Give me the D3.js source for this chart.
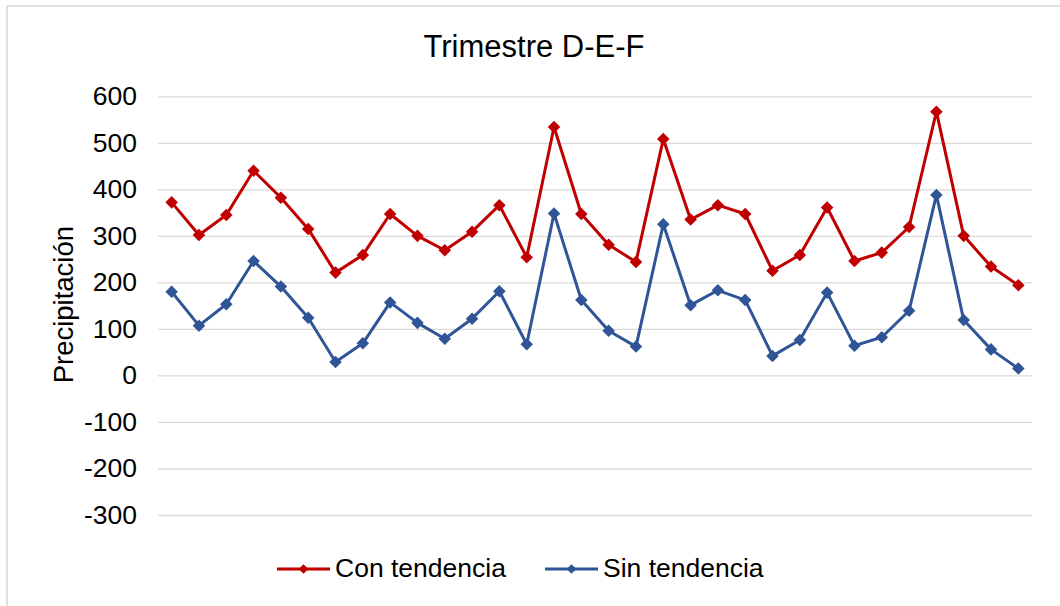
<!DOCTYPE html>
<html>
  <head>
    <meta charset="utf-8">
    <title>Trimestre D-E-F</title>
    <script src="https://d3js.org/d3.v7.min.js"></script>
    <style>
      body { margin: 0; background: #fff; }
      svg { display: block; font-family: "Liberation Sans", Arial, sans-serif; }
      .gridlines line { stroke: #d9d9d9; stroke-width: 1.3; }
      .gridlines path { display: none; }
      .axis path, .axis line { display: none; }
      .axis text { font-size: 26.5px; fill: #000; }
    </style>
  </head>
  <body>
    <script type="text/javascript">
    // data
    var periods = d3.range(1, 33);
    var conTendencia = [372, 302, 345, 440, 382, 315, 221, 259, 347, 300, 269,
                        309, 366, 254, 534, 347, 281, 244, 508, 335, 366, 347,
                        225, 259, 361, 246, 264, 319, 567, 300, 234, 194];
    var sinTendencia = [180, 107, 153, 246, 191, 124, 29, 69, 157, 113, 79,
                        122, 181, 67, 348, 162, 96, 62, 325, 151, 183, 162,
                        42, 76, 178, 64, 82, 139, 388, 119, 56, 15];
    var yTicks = [-300, -200, -100, 0, 100, 200, 300, 400, 500, 600];
    var seriesNames = ['Con tendencia', 'Sin tendencia'];
    var seriesColors = ['#c00000', '#2f5597'];

    var W = 1060, H = 606;
    var plot = {left: 158, right: 1032, top: 96.3, bottom: 515};

    var svg = d3.select('body').append('svg')
        .attr('width', W)
        .attr('height', H);

    // chart border (right and bottom edges fall outside the picture)
    svg.append('rect')
        .attr('x', 7)
        .attr('y', 6)
        .attr('width', W + 20)
        .attr('height', H + 20)
        .attr('fill', '#fff')
        .attr('stroke', '#d9d9d9')
        .attr('stroke-width', 1.6)

    var xScale = d3.scalePoint().domain(periods)
        .range([plot.left, plot.right]).padding(0.5);
    var yScale = d3.scaleLinear().domain([-300, 600])
        .range([plot.bottom, plot.top]);

    // y gridlines
    svg.append('g')
        .attr('class', 'gridlines')
        .attr('transform', 'translate(' + plot.left + ',0)')
        .call(d3.axisLeft(yScale)
            .tickValues(yTicks)
            .tickSize(-(plot.right - plot.left))
            .tickFormat('')
          )

    // y-axis (plain hyphen for negatives, like the original)
    svg.append('g')
        .attr('class', 'axis')
        .attr('transform', 'translate(' + plot.left + ',0)')
        .call(d3.axisLeft(yScale)
            .tickValues(yTicks)
            .tickSize(0)
            .tickPadding(21)
            .tickFormat(function(d) { return String(d); })
          )

    // y-axis label
    svg.append('text')
        .attr('transform', 'translate(73,' + ((plot.top + plot.bottom) / 2 - 1) + ') rotate(-90)')
        .style('text-anchor', 'middle')
        .style('font-size', '27.5px')
        .text('Precipitación');

    // title
    svg.append('text')
        .attr('x', 534)
        .attr('y', 57)
        .style('text-anchor', 'middle')
        .style('font-size', '31px')
        .text('Trimestre D-E-F');

    var line = d3.line()
        .x(function(d, i) { return xScale(periods[i]); })
        .y(function(d) { return yScale(d); });

    var diamond = d3.symbol().type(d3.symbolDiamond2);

    [conTendencia, sinTendencia].forEach(function(values, s) {
      var g = svg.append('g').attr('class', 'series');
      g.append('path')
          .datum(values)
          .attr('fill', 'none')
          .attr('stroke', seriesColors[s])
          .attr('stroke-width', 3)
          .attr('stroke-linejoin', 'round')
          .attr('d', line);
      g.selectAll('.marker')
          .data(values)
          .enter()
          .append('path')
          .attr('class', 'marker')
          .attr('fill', seriesColors[s])
          .attr('d', diamond.size(100))
          .attr('transform', function(d, i) {
            return 'translate(' + xScale(periods[i]) + ',' + yScale(d) + ')';
          });
    });

    // legend
    var legendX = [277, 545];
    seriesNames.forEach(function(name, s) {
      var lg = svg.append('g')
          .attr('transform', 'translate(' + legendX[s] + ',569)');
      lg.append('line')
          .attr('x1', 0).attr('x2', 53)
          .attr('stroke', seriesColors[s])
          .attr('stroke-width', 3);
      lg.append('path')
          .attr('fill', seriesColors[s])
          .attr('d', diamond.size(60))
          .attr('transform', 'translate(26.5,0)');
      lg.append('text')
          .attr('x', 58)
          .attr('y', 7.5)
          .style('font-size', '26.5px')
          .text(name);
    });
    </script>
  </body>
</html>
